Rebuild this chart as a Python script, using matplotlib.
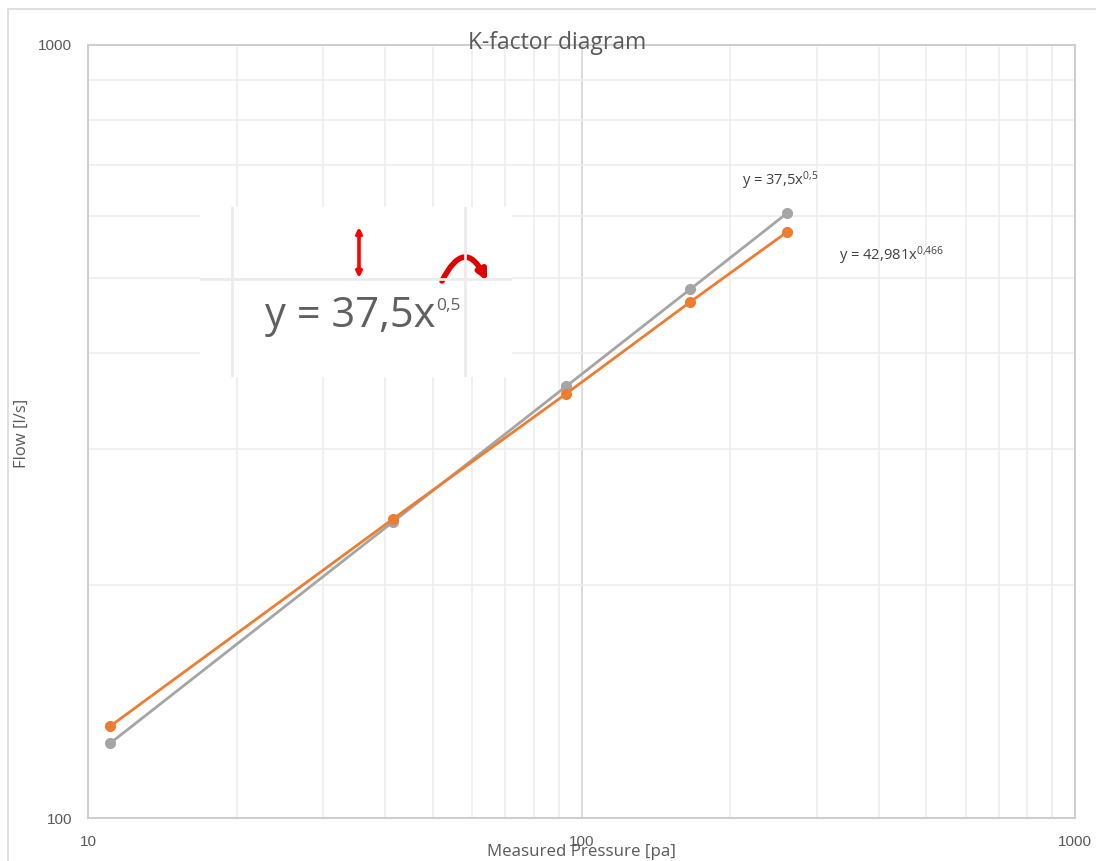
import matplotlib
matplotlib.use("Agg")
import matplotlib.pyplot as plt
from matplotlib.patches import Rectangle, FancyArrowPatch
from matplotlib.ticker import FixedLocator, NullFormatter, LogLocator

plt.rcParams['font.family'] = ['Open Sans', 'DejaVu Sans']
plt.rcParams['mathtext.fontset'] = 'custom'
plt.rcParams['mathtext.rm'] = 'Open Sans'
plt.rcParams['mathtext.it'] = 'Open Sans'

# ---- data ----
pressure = [11.1, 41.5, 93, 166, 261]
flow_theory = [125.0, 241.6, 361.6, 483.0, 606.0]
flow_measured = [131.5, 243.7, 353.7, 465.0, 573.0]
x_ticks = [10, 100, 1000]
y_ticks = [100, 1000]
title = "K-factor diagram"
xlabel = "Measured Pressure [pa]"
ylabel = "Flow [l/s]"
eq_theory = r"y = 37,5x$^{0{,}5}$"
eq_measured = r"y = 42,981x$^{0{,}466}$"

W, H = 1096, 861
fig = plt.figure(figsize=(W / 100, H / 100), dpi=100)

def fx(px):
    return px / W

def fy(py):
    return 1 - py / H

# outer chart border
fig.patches.append(Rectangle((fx(8), fy(H + 20)), fx(W + 20) - fx(8), fy(9) - fy(H + 20),
                             transform=fig.transFigure, fill=False, ec='#D9D9D9', lw=1.2))

ax = fig.add_axes([fx(88), fy(818), fx(1075) - fx(88), fy(45) - fy(818)])
ax.set_xscale('log')
ax.set_yscale('log')
ax.set_xlim(10, 1000)
ax.set_ylim(100, 1000)

ax.xaxis.set_major_locator(FixedLocator(x_ticks))
ax.yaxis.set_major_locator(FixedLocator(y_ticks))
ax.xaxis.set_minor_locator(LogLocator(base=10, subs=range(2, 10)))
ax.yaxis.set_minor_locator(LogLocator(base=10, subs=range(2, 10)))
ax.xaxis.set_minor_formatter(NullFormatter())
ax.yaxis.set_minor_formatter(NullFormatter())
ax.set_xticklabels([str(t) for t in x_ticks])
ax.set_yticklabels([str(t) for t in y_ticks])
ax.tick_params(which='both', length=0)
ax.tick_params(axis='x', pad=12, labelsize=11, labelcolor='#595959',
               labelfontfamily='Liberation Sans')
ax.tick_params(axis='y', pad=11.5, labelsize=11, labelcolor='#595959',
               labelfontfamily='Liberation Sans')

ax.grid(True, which='minor', color='#EDEDED', lw=1.2)
ax.grid(True, which='major', color='#D6D6D6', lw=1.2)
ax.set_axisbelow(True)
for s in ax.spines.values():
    s.set_color('#CCCCCC')
    s.set_linewidth(1.3)

ax.plot(pressure, flow_theory, color='#A5A5A5', lw=2.0, marker='o', ms=7, zorder=3)
ax.plot(pressure, flow_measured, color='#ED7D31', lw=2.0, marker='o', ms=7, zorder=4)

# labels
fig.text(fx(557), fy(49), title, ha='center', va='baseline', fontsize=16.5, color='#595959')
fig.text(fx(581), fy(852), xlabel, ha='center', va='center', fontsize=12.2, color='#595959')
fig.text(fx(22), fy(433), ylabel, ha='center', va='center', rotation=90, fontsize=12, color='#595959')

fig.text(fx(742), fy(185), eq_theory, ha='left', va='baseline', fontsize=10.6, color='#404040')
fig.text(fx(839), fy(260), eq_measured, ha='left', va='baseline', fontsize=10.6, color='#404040')

# pasted inset image
ix0, iy0, iw, ih = 200, 207, 312, 170
ins = fig.add_axes([fx(ix0), fy(iy0 + ih), fx(iw), fy(0) - fy(ih)])
ins.set_xlim(0, iw)
ins.set_ylim(ih, 0)
ins.set_facecolor('white')
for s in ins.spines.values():
    s.set_visible(False)
ins.set_xticks([])
ins.set_yticks([])
ins.plot([32, 32], [0, ih], color='#EBEBEB', lw=2)
ins.plot([265, 265], [0, ih], color='#EBEBEB', lw=2)
ins.plot([0, iw], [72, 72], color='#EBEBEB', lw=2)
ins.text(65, 120, "y = 37,5x", ha='left', va='baseline', fontsize=30, color='#606060')
ins.text(236, 103, "0,5", ha='left', va='baseline', fontsize=12.5, color='#606060')
ins.add_patch(FancyArrowPatch((159, 20), (159, 71), arrowstyle='<|-|>', mutation_scale=8,
                              color='#FF0000', lw=2.6, shrinkA=0, shrinkB=0))
ins.add_patch(FancyArrowPatch((242, 74), (287, 74), connectionstyle='arc3,rad=-1.0',
                              arrowstyle='-|>', mutation_scale=14, color='#E00000', lw=4,
                              shrinkA=0, shrinkB=0))

fig.savefig('out.png', dpi=100)
